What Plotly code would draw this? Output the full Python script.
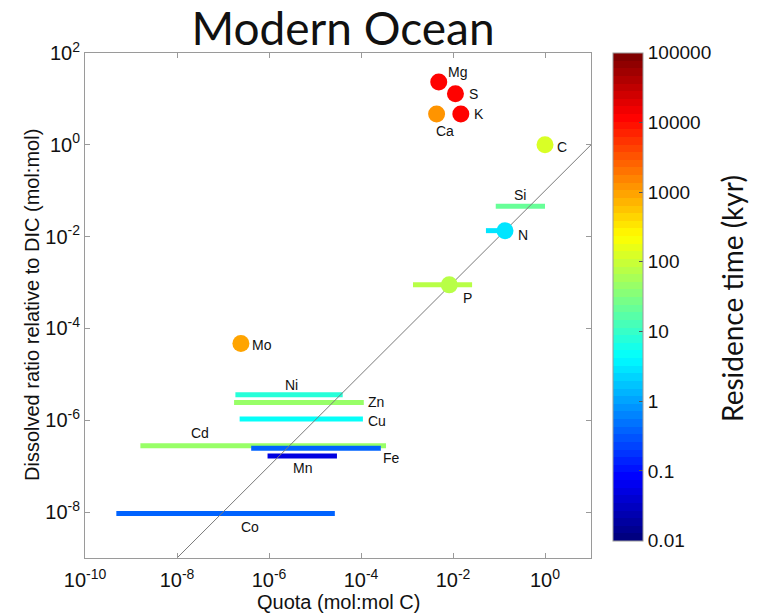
import numpy as np
import plotly.graph_objects as go

# ---------------- data ----------------
# Elements shown as single points (quota in mol:mol C, dissolved ratio in mol:mol DIC)
point_names = ["Mg", "S", "Ca", "K", "C", "N", "P", "Mo"]
point_quota = [4.9e-3, 1.13e-2, 4.4e-3, 1.48e-2, 1.0, 0.135, 8.3e-3, 2.45e-7]
point_ratio = [23.3, 13.0, 4.67, 4.67, 1.0, 1.35e-2, 8.9e-4, 4.7e-5]
point_residence = [13000, 11000, 1100, 13000, 140, 3.0, 70, 850]  # kyr

# Elements shown as quota ranges
bar_names = ["Si", "N", "P", "Ni", "Zn", "Cu", "Cd", "Fe", "Mn", "Co"]
bar_quota_lo = [0.085, 0.052, 1.35e-3, 1.86e-7, 1.74e-7, 2.3e-7, 1.6e-9, 4.1e-7, 9.3e-7, 4.8e-10]
bar_quota_hi = [1.0, 0.135, 2.6e-2, 4.0e-5, 1.15e-4, 1.1e-4, 3.5e-4, 2.7e-4, 3.0e-5, 2.7e-5]
bar_ratio = [0.046, 1.35e-2, 8.9e-4, 3.6e-6, 2.45e-6, 1.07e-6, 2.8e-7, 2.45e-7, 1.66e-7, 9.3e-9]
bar_residence = [24, 3.0, 70, 7, 47, 5, 47, 0.35, 0.05, 0.4]  # kyr

# 1:10 reference line
diag_quota = [1e-8, 1e1]
diag_ratio = [1e-9, 1e0]

# axis / colorbar ticks
x_tick_exp = [-10, -8, -6, -4, -2, 0]
y_tick_exp = [-8, -6, -4, -2, 0, 2]
cb_tick_vals = [0.01, 0.1, 1, 10, 100, 1000, 10000, 100000]
cb_tick_text = ["0.01", "0.1", "1", "10", "100", "1000", "10000", "100000"]

# ---------------- styling ----------------
# label placement: (dx px, dy px downward) from the point, text centred there
point_label_pos = {
    "Mg": (19, -10), "S": (18, 0), "Ca": (8, 17), "K": (18.5, 0),
    "C": (17, 2), "N": (17.5, 4), "P": (18, 13), "Mo": (21.5, 1),
}
# (anchor on bar, dx px, dy px downward)
bar_label_pos = {
    "Si": ("mid", 0, -11), "Ni": ("mid", 2, -10), "Zn": ("hi", 12, 0),
    "Cu": ("hi", 14, 2), "Cd": ("lo", 60, -13), "Fe": ("hi", 11, 10),
    "Mn": ("mid", 0, 12), "Co": ("mid", 24, 13),
}

CMIN, CMAX = -2, 5

# plot-area geometry in pixels
W, H = 760, 613
ML, MR, MT, MB = 85, 169, 53, 55
PW, PH = W - ML - MR, H - MT - MB


def px_to_paper_x(px):
    return (px - ML) / PW


def px_to_paper_y(py):
    return (H - MB - py) / PH


def jet_rgb(f):
    r = np.clip(1.5 - abs(4 * f - 3), 0, 1)
    g = np.clip(1.5 - abs(4 * f - 2), 0, 1)
    b = np.clip(1.5 - abs(4 * f - 1), 0, 1)
    return f"rgb({int(round(r*255))},{int(round(g*255))},{int(round(b*255))})"


# 64-level stepped jet colormap
N_LEVELS = 64
jet_levels = [jet_rgb(k / (N_LEVELS - 1)) for k in range(N_LEVELS)]
jet64 = []
for k, c in enumerate(jet_levels):
    jet64.append([k / N_LEVELS, c])
    jet64.append([(k + 1) / N_LEVELS, c])


def res_color(res):
    # same lookup the colorbar uses: log10(residence) on [CMIN, CMAX]
    frac = (np.log10(res) - CMIN) / (CMAX - CMIN)
    idx = int(np.clip(np.floor(frac * N_LEVELS), 0, N_LEVELS - 1))
    return jet_levels[idx]


AXIS_GREY = "#9a9a9a"
SANS = "Liberation Sans, Arial, sans-serif"
HUMANIST = "Lato, sans-serif"
LABEL_FONT = dict(family=SANS, size=14, color="#111")
AXIS_TITLE_FONT = dict(family=SANS, size=20, color="#111")

fig = go.Figure()

# range bars
for name, lo, hi, r, res in zip(bar_names, bar_quota_lo, bar_quota_hi, bar_ratio, bar_residence):
    fig.add_trace(go.Scatter(
        x=[lo, hi], y=[r, r], mode="lines",
        line=dict(color=res_color(res), width=5),
        hoverinfo="skip", showlegend=False,
    ))

# reference line
fig.add_trace(go.Scatter(
    x=diag_quota, y=diag_ratio, mode="lines",
    line=dict(color="#7a7a7a", width=1),
    hoverinfo="skip", showlegend=False,
))

# points, carrying the residence-time colorbar
fig.add_trace(go.Scatter(
    x=point_quota, y=point_ratio, mode="markers",
    text=point_names,
    marker=dict(
        size=17,
        color=np.log10(point_residence),
        colorscale=jet64, cmin=CMIN, cmax=CMAX,
        line=dict(width=0),
        showscale=True,
        colorbar=dict(
            x=px_to_paper_x(613), xanchor="left", xpad=0,
            y=px_to_paper_y(52.7), yanchor="top", ypad=0,
            thickness=30, thicknessmode="pixels",
            len=488, lenmode="pixels",
            tickvals=list(np.log10(cb_tick_vals)), ticktext=cb_tick_text,
            ticks="inside", ticklen=4, tickcolor="#555",
            tickfont=dict(family=SANS, size=19, color="#111"),
            outlinewidth=1, outlinecolor=AXIS_GREY,
        ),
    ),
    showlegend=False,
))

annotations = []
for name, q, r in zip(point_names, point_quota, point_ratio):
    dx, dy = point_label_pos[name]
    annotations.append(dict(
        x=np.log10(q), y=np.log10(r), xref="x", yref="y", text=name,
        showarrow=False, xanchor="center", yanchor="middle",
        xshift=dx, yshift=-dy, font=LABEL_FONT,
    ))
for name, lo, hi, r in zip(bar_names, bar_quota_lo, bar_quota_hi, bar_ratio):
    if name not in bar_label_pos:
        continue
    anchor, dx, dy = bar_label_pos[name]
    if anchor == "lo":
        ax = np.log10(lo)
    elif anchor == "hi":
        ax = np.log10(hi)
    else:
        ax = (np.log10(lo) + np.log10(hi)) / 2
    annotations.append(dict(
        x=ax, y=np.log10(r), xref="x", yref="y", text=name,
        showarrow=False, xanchor="center", yanchor="middle",
        xshift=dx, yshift=-dy, font=LABEL_FONT,
    ))

# axis titles and colorbar title
annotations += [
    dict(text="Quota (mol:mol C)", xref="paper", yref="paper",
         x=px_to_paper_x(338), y=px_to_paper_y(602),
         xanchor="center", yanchor="middle", showarrow=False, font=AXIS_TITLE_FONT),
    dict(text="Dissolved ratio relative to DIC (mol:mol)", xref="paper", yref="paper",
         x=px_to_paper_x(32), y=px_to_paper_y(305),
         xanchor="center", yanchor="middle", textangle=-90, showarrow=False,
         font=AXIS_TITLE_FONT),
    dict(text="Residence time (kyr)", xref="paper", yref="paper",
         x=px_to_paper_x(732), y=px_to_paper_y(299),
         xanchor="center", yanchor="middle", textangle=-90, showarrow=False,
         font=dict(family=HUMANIST, size=28, color="#111")),
]

axis_common = dict(
    type="log", showgrid=False, zeroline=False,
    showline=True, linecolor=AXIS_GREY, linewidth=1, mirror="ticks",
    ticks="inside", ticklen=5, tickcolor=AXIS_GREY,
    tickfont=dict(family=SANS, size=20, color="#111"),
)

fig.update_layout(
    width=W, height=H,
    margin=dict(l=ML, r=MR, t=MT, b=MB),
    paper_bgcolor="white", plot_bgcolor="white",
    title=dict(text="Modern Ocean", x=343 / W, xanchor="center",
               y=1 - 29 / H, yanchor="middle",
               font=dict(family=HUMANIST, size=46, color="#111")),
    xaxis=dict(
        axis_common, range=[-10, 1],
        tickvals=[10.0 ** e for e in x_tick_exp],
        ticktext=[f"10<sup>{e}</sup>" for e in x_tick_exp],
        ticklabelstandoff=4,
    ),
    yaxis=dict(
        axis_common, range=[-9, 2],
        tickvals=[10.0 ** e for e in y_tick_exp],
        ticktext=[f"10<sup>{e}</sup>" for e in y_tick_exp],
    ),
    annotations=annotations,
)

fig.write_html("out.html")
